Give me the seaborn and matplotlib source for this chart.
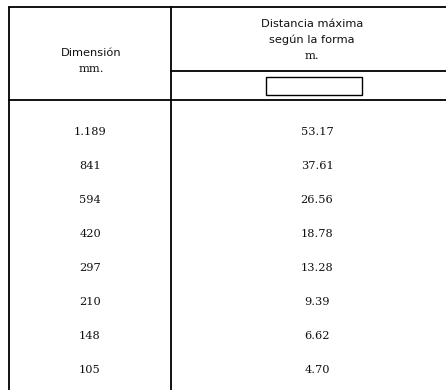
import seaborn as sns
import matplotlib.pyplot as plt
import pandas as pd

# table content
dim_header = ['Dimensión', 'mm.']
dist_header = ['Distancia máxima', 'según la forma', 'm.']
dimensions = ['1.189', '841', '594', '420', '297', '210', '148', '105']
distances = ['53.17', '37.61', '26.56', '18.78', '13.28', '9.39', '6.62', '4.70']

df = pd.DataFrame({'dim': dimensions, 'dist': distances})

sns.set_theme(style='white')
plt.rcParams['font.family'] = ['DejaVu Sans']

W, H = 446, 390
fig = plt.figure(figsize=(W / 100, H / 100), dpi=100)
ax = fig.add_axes([0, 0, 1, 1])
ax.set_xlim(0, W)
ax.set_ylim(H, 0)
ax.axis('off')

lw = 1.3
x_left, x_mid, x_right = 9, 171, 446
y_top, y_sub, y_head = 7, 71, 100

# grid lines
ax.plot([x_left, x_right], [y_top, y_top], color='black', lw=lw)
ax.plot([x_left, x_right], [y_head, y_head], color='black', lw=lw)
ax.plot([x_mid, x_right], [y_sub, y_sub], color='black', lw=lw)
ax.plot([x_left, x_left], [y_top, H], color='black', lw=lw)
ax.plot([x_mid, x_mid], [y_top, H], color='black', lw=lw)
ax.add_patch(plt.Rectangle((266, 77), 96, 18, fill=False, edgecolor='black', lw=1.0))

# headers
head_fs = 8.2
ax.text(91, 53, dim_header[0], ha='center', va='center', fontsize=head_fs, color='#111111')
ax.text(91, 69, dim_header[1], ha='center', va='center', fontsize=head_fs,
        family='DejaVu Serif', color='#111111')
ax.text(312, 24, dist_header[0], ha='center', va='center', fontsize=head_fs, color='#111111')
ax.text(312, 40, dist_header[1], ha='center', va='center', fontsize=head_fs, color='#111111')
ax.text(312, 56, dist_header[2], ha='center', va='center', fontsize=head_fs,
        family='DejaVu Serif', color='#111111')

# body rows
row0, row_h = 132, 34
for i, row in df.iterrows():
    y = row0 + i * row_h
    ax.text(90, y, row['dim'], ha='center', va='center', fontsize=8.2,
            family='DejaVu Serif', color='#111111')
    ax.text(317, y, row['dist'], ha='center', va='center', fontsize=8.2,
            family='DejaVu Serif', color='#111111')

fig.savefig('out.png', dpi=100)
